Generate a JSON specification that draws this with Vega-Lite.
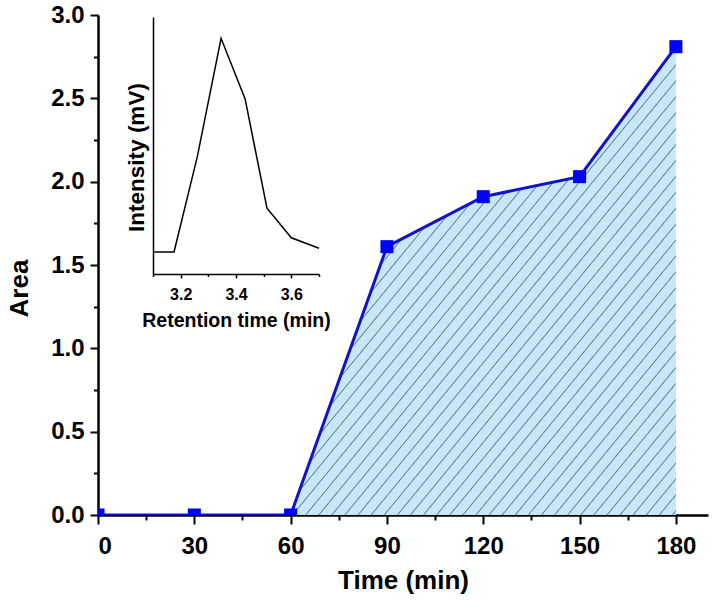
{
  "$schema": "https://vega.github.io/schema/vega-lite/v6.json",
  "width": 610,
  "height": 500,
  "autosize": {"type": "none"},
  "padding": {"left": 98, "top": 15, "right": 6, "bottom": 96},
  "background": "white",
  "config": {
    "view": {"stroke": null},
    "axis": {
      "grid": false,
      "domainColor": "black",
      "tickColor": "black",
      "labelColor": "black",
      "titleColor": "black",
      "labelFont": "Liberation Sans",
      "titleFont": "Liberation Sans",
      "labelFontWeight": "bold",
      "titleFontWeight": "bold"
    }
  },
  "datasets": {
    "main": [
      {"time": 0, "area": 0},
      {"time": 30, "area": 0},
      {"time": 60, "area": 0},
      {"time": 90, "area": 1.61},
      {"time": 120, "area": 1.91},
      {"time": 150, "area": 2.03},
      {"time": 180, "area": 2.81}
    ],
    "inset": [
      {"rt": 3.1, "intensity": 8.6},
      {"rt": 3.176, "intensity": 8.6},
      {"rt": 3.26, "intensity": 45.6},
      {"rt": 3.346, "intensity": 91.7},
      {"rt": 3.433, "intensity": 68.1},
      {"rt": 3.512, "intensity": 25.6},
      {"rt": 3.6, "intensity": 14.1},
      {"rt": 3.7, "intensity": 10.0}
    ]
  },
  "layer": [
    {
      "data": {"name": "main"},
      "encoding": {
        "x": {
          "field": "time",
          "type": "quantitative",
          "scale": {"domain": [0, 190], "nice": false},
          "axis": {
            "orient": "bottom",
            "values": [0, 15, 30, 45, 60, 75, 90, 105, 120, 135, 150, 165, 180],
            "labelExpr": "datum.value % 30 == 0 ? datum.label : ''",
            "tickSize": {"condition": {"test": "datum.value % 30 == 0", "value": 9}, "value": 5},
            "tickWidth": 2,
            "domainWidth": 2.5,
            "labelFontSize": 24,
            "labelPadding": 10,
            "labelOverlap": false,
            "title": "Time (min)",
            "titleFontSize": 26,
            "titlePadding": 9
          }
        },
        "y": {
          "field": "area",
          "type": "quantitative",
          "scale": {"domain": [0, 3], "nice": false},
          "axis": {
            "orient": "left",
            "values": [0, 0.25, 0.5, 0.75, 1, 1.25, 1.5, 1.75, 2, 2.25, 2.5, 2.75, 3],
            "format": ".1f",
            "labelExpr": "(datum.value * 4) % 2 == 0 ? datum.label : ''",
            "tickSize": {"condition": {"test": "(datum.value * 4) % 2 == 0", "value": 8}, "value": 4.5},
            "tickWidth": 2,
            "domainWidth": 2.5,
            "labelFontSize": 24,
            "labelPadding": 6,
            "labelOverlap": false,
            "title": "Area",
            "titleFontSize": 26,
            "titlePadding": 18,
            "titleY": 273
          }
        }
      },
      "layer": [
        {
          "transform": [{"filter": "datum.time >= 60"}],
          "mark": {
            "type": "area",
            "clip": true,
            "opacity": 1,
            "fill": {
              "gradient": "linear",
              "x1": 0, "y1": 0, "x2": 1, "y2": 1,
              "stops": [
                {"offset": 0, "color": "#c7e7f7"},
                {"offset": 0.008, "color": "#c7e7f7"}, {"offset": 0.0095, "color": "#4f7a96"}, {"offset": 0.011, "color": "#c7e7f7"},
                {"offset": 0.025, "color": "#c7e7f7"}, {"offset": 0.0265, "color": "#4f7a96"}, {"offset": 0.028, "color": "#c7e7f7"},
                {"offset": 0.042, "color": "#c7e7f7"}, {"offset": 0.0435, "color": "#4f7a96"}, {"offset": 0.045, "color": "#c7e7f7"},
                {"offset": 0.059, "color": "#c7e7f7"}, {"offset": 0.0605, "color": "#4f7a96"}, {"offset": 0.062, "color": "#c7e7f7"},
                {"offset": 0.076, "color": "#c7e7f7"}, {"offset": 0.0775, "color": "#4f7a96"}, {"offset": 0.079, "color": "#c7e7f7"},
                {"offset": 0.093, "color": "#c7e7f7"}, {"offset": 0.0945, "color": "#4f7a96"}, {"offset": 0.096, "color": "#c7e7f7"},
                {"offset": 0.110, "color": "#c7e7f7"}, {"offset": 0.1115, "color": "#4f7a96"}, {"offset": 0.113, "color": "#c7e7f7"},
                {"offset": 0.127, "color": "#c7e7f7"}, {"offset": 0.1285, "color": "#4f7a96"}, {"offset": 0.130, "color": "#c7e7f7"},
                {"offset": 0.144, "color": "#c7e7f7"}, {"offset": 0.1455, "color": "#4f7a96"}, {"offset": 0.147, "color": "#c7e7f7"},
                {"offset": 0.161, "color": "#c7e7f7"}, {"offset": 0.1625, "color": "#4f7a96"}, {"offset": 0.164, "color": "#c7e7f7"},
                {"offset": 0.178, "color": "#c7e7f7"}, {"offset": 0.1795, "color": "#4f7a96"}, {"offset": 0.181, "color": "#c7e7f7"},
                {"offset": 0.195, "color": "#c7e7f7"}, {"offset": 0.1965, "color": "#4f7a96"}, {"offset": 0.198, "color": "#c7e7f7"},
                {"offset": 0.212, "color": "#c7e7f7"}, {"offset": 0.2135, "color": "#4f7a96"}, {"offset": 0.215, "color": "#c7e7f7"},
                {"offset": 0.229, "color": "#c7e7f7"}, {"offset": 0.2305, "color": "#4f7a96"}, {"offset": 0.232, "color": "#c7e7f7"},
                {"offset": 0.246, "color": "#c7e7f7"}, {"offset": 0.2475, "color": "#4f7a96"}, {"offset": 0.249, "color": "#c7e7f7"},
                {"offset": 0.263, "color": "#c7e7f7"}, {"offset": 0.2645, "color": "#4f7a96"}, {"offset": 0.266, "color": "#c7e7f7"},
                {"offset": 0.280, "color": "#c7e7f7"}, {"offset": 0.2815, "color": "#4f7a96"}, {"offset": 0.283, "color": "#c7e7f7"},
                {"offset": 0.297, "color": "#c7e7f7"}, {"offset": 0.2985, "color": "#4f7a96"}, {"offset": 0.300, "color": "#c7e7f7"},
                {"offset": 0.314, "color": "#c7e7f7"}, {"offset": 0.3155, "color": "#4f7a96"}, {"offset": 0.317, "color": "#c7e7f7"},
                {"offset": 0.331, "color": "#c7e7f7"}, {"offset": 0.3325, "color": "#4f7a96"}, {"offset": 0.334, "color": "#c7e7f7"},
                {"offset": 0.348, "color": "#c7e7f7"}, {"offset": 0.3495, "color": "#4f7a96"}, {"offset": 0.351, "color": "#c7e7f7"},
                {"offset": 0.365, "color": "#c7e7f7"}, {"offset": 0.3665, "color": "#4f7a96"}, {"offset": 0.368, "color": "#c7e7f7"},
                {"offset": 0.382, "color": "#c7e7f7"}, {"offset": 0.3835, "color": "#4f7a96"}, {"offset": 0.385, "color": "#c7e7f7"},
                {"offset": 0.399, "color": "#c7e7f7"}, {"offset": 0.4005, "color": "#4f7a96"}, {"offset": 0.402, "color": "#c7e7f7"},
                {"offset": 0.416, "color": "#c7e7f7"}, {"offset": 0.4175, "color": "#4f7a96"}, {"offset": 0.419, "color": "#c7e7f7"},
                {"offset": 0.433, "color": "#c7e7f7"}, {"offset": 0.4345, "color": "#4f7a96"}, {"offset": 0.436, "color": "#c7e7f7"},
                {"offset": 0.450, "color": "#c7e7f7"}, {"offset": 0.4515, "color": "#4f7a96"}, {"offset": 0.453, "color": "#c7e7f7"},
                {"offset": 0.467, "color": "#c7e7f7"}, {"offset": 0.4685, "color": "#4f7a96"}, {"offset": 0.470, "color": "#c7e7f7"},
                {"offset": 0.484, "color": "#c7e7f7"}, {"offset": 0.4855, "color": "#4f7a96"}, {"offset": 0.487, "color": "#c7e7f7"},
                {"offset": 0.501, "color": "#c7e7f7"}, {"offset": 0.5025, "color": "#4f7a96"}, {"offset": 0.504, "color": "#c7e7f7"},
                {"offset": 0.518, "color": "#c7e7f7"}, {"offset": 0.5195, "color": "#4f7a96"}, {"offset": 0.521, "color": "#c7e7f7"},
                {"offset": 0.535, "color": "#c7e7f7"}, {"offset": 0.5365, "color": "#4f7a96"}, {"offset": 0.538, "color": "#c7e7f7"},
                {"offset": 0.552, "color": "#c7e7f7"}, {"offset": 0.5535, "color": "#4f7a96"}, {"offset": 0.555, "color": "#c7e7f7"},
                {"offset": 0.569, "color": "#c7e7f7"}, {"offset": 0.5705, "color": "#4f7a96"}, {"offset": 0.572, "color": "#c7e7f7"},
                {"offset": 0.586, "color": "#c7e7f7"}, {"offset": 0.5875, "color": "#4f7a96"}, {"offset": 0.589, "color": "#c7e7f7"},
                {"offset": 0.603, "color": "#c7e7f7"}, {"offset": 0.6045, "color": "#4f7a96"}, {"offset": 0.606, "color": "#c7e7f7"},
                {"offset": 0.620, "color": "#c7e7f7"}, {"offset": 0.6215, "color": "#4f7a96"}, {"offset": 0.623, "color": "#c7e7f7"},
                {"offset": 0.637, "color": "#c7e7f7"}, {"offset": 0.6385, "color": "#4f7a96"}, {"offset": 0.640, "color": "#c7e7f7"},
                {"offset": 0.654, "color": "#c7e7f7"}, {"offset": 0.6555, "color": "#4f7a96"}, {"offset": 0.657, "color": "#c7e7f7"},
                {"offset": 0.671, "color": "#c7e7f7"}, {"offset": 0.6725, "color": "#4f7a96"}, {"offset": 0.674, "color": "#c7e7f7"},
                {"offset": 0.688, "color": "#c7e7f7"}, {"offset": 0.6895, "color": "#4f7a96"}, {"offset": 0.691, "color": "#c7e7f7"},
                {"offset": 0.705, "color": "#c7e7f7"}, {"offset": 0.7065, "color": "#4f7a96"}, {"offset": 0.708, "color": "#c7e7f7"},
                {"offset": 0.722, "color": "#c7e7f7"}, {"offset": 0.7235, "color": "#4f7a96"}, {"offset": 0.725, "color": "#c7e7f7"},
                {"offset": 0.739, "color": "#c7e7f7"}, {"offset": 0.7405, "color": "#4f7a96"}, {"offset": 0.742, "color": "#c7e7f7"},
                {"offset": 0.756, "color": "#c7e7f7"}, {"offset": 0.7575, "color": "#4f7a96"}, {"offset": 0.759, "color": "#c7e7f7"},
                {"offset": 0.773, "color": "#c7e7f7"}, {"offset": 0.7745, "color": "#4f7a96"}, {"offset": 0.776, "color": "#c7e7f7"},
                {"offset": 0.790, "color": "#c7e7f7"}, {"offset": 0.7915, "color": "#4f7a96"}, {"offset": 0.793, "color": "#c7e7f7"},
                {"offset": 0.807, "color": "#c7e7f7"}, {"offset": 0.8085, "color": "#4f7a96"}, {"offset": 0.810, "color": "#c7e7f7"},
                {"offset": 0.824, "color": "#c7e7f7"}, {"offset": 0.8255, "color": "#4f7a96"}, {"offset": 0.827, "color": "#c7e7f7"},
                {"offset": 0.841, "color": "#c7e7f7"}, {"offset": 0.8425, "color": "#4f7a96"}, {"offset": 0.844, "color": "#c7e7f7"},
                {"offset": 0.858, "color": "#c7e7f7"}, {"offset": 0.8595, "color": "#4f7a96"}, {"offset": 0.861, "color": "#c7e7f7"},
                {"offset": 0.875, "color": "#c7e7f7"}, {"offset": 0.8765, "color": "#4f7a96"}, {"offset": 0.878, "color": "#c7e7f7"},
                {"offset": 0.892, "color": "#c7e7f7"}, {"offset": 0.8935, "color": "#4f7a96"}, {"offset": 0.895, "color": "#c7e7f7"},
                {"offset": 0.909, "color": "#c7e7f7"}, {"offset": 0.9105, "color": "#4f7a96"}, {"offset": 0.912, "color": "#c7e7f7"},
                {"offset": 0.926, "color": "#c7e7f7"}, {"offset": 0.9275, "color": "#4f7a96"}, {"offset": 0.929, "color": "#c7e7f7"},
                {"offset": 0.943, "color": "#c7e7f7"}, {"offset": 0.9445, "color": "#4f7a96"}, {"offset": 0.946, "color": "#c7e7f7"},
                {"offset": 0.960, "color": "#c7e7f7"}, {"offset": 0.9615, "color": "#4f7a96"}, {"offset": 0.963, "color": "#c7e7f7"},
                {"offset": 0.977, "color": "#c7e7f7"}, {"offset": 0.9785, "color": "#4f7a96"}, {"offset": 0.980, "color": "#c7e7f7"},
                {"offset": 0.994, "color": "#c7e7f7"}, {"offset": 0.9955, "color": "#4f7a96"}, {"offset": 0.997, "color": "#c7e7f7"},
                {"offset": 1, "color": "#c7e7f7"}
              ]
            }
          }
        },
        {
          "mark": {"type": "line", "color": "#1212c8", "strokeWidth": 3, "clip": true}
        },
        {
          "mark": {"type": "point", "shape": "square", "filled": true, "size": 170, "color": "#0000ff", "opacity": 1, "clip": true}
        }
      ]
    },
    {
      "data": {"name": "inset"},
      "mark": {"type": "line", "color": "black", "strokeWidth": 1.5, "clip": true},
      "encoding": {
        "x": {
          "field": "rt",
          "type": "quantitative",
          "scale": {"domain": [3.1, 3.7], "range": [55, 221], "nice": false, "zero": false},
          "axis": {
            "orient": "bottom",
            "offset": -241,
            "values": [3.1, 3.2, 3.3, 3.4, 3.5, 3.6, 3.7],
            "format": ".1f",
            "labelExpr": "round(datum.value * 10) % 2 == 0 ? datum.label : ''",
            "tickSize": {"condition": {"test": "round(datum.value * 10) % 2 == 0", "value": 4}, "value": 2.5},
            "tickWidth": 1.5,
            "domainWidth": 1.5,
            "labelFontSize": 16,
            "labelPadding": 8,
            "labelOverlap": false,
            "title": "Retention time (min)",
            "titleFontSize": 19.5,
            "titlePadding": 9
          }
        },
        "y": {
          "field": "intensity",
          "type": "quantitative",
          "scale": {"domain": [0, 100], "range": [259, 2], "nice": false},
          "axis": {
            "orient": "left",
            "offset": -55,
            "ticks": false,
            "labels": false,
            "domainWidth": 1.5,
            "title": "Intensity (mV)",
            "titleFontSize": 22.5,
            "titlePadding": 5,
            "titleY": 142
          }
        }
      }
    }
  ],
  "resolve": {
    "scale": {"x": "independent", "y": "independent"},
    "axis": {"x": "independent", "y": "independent"}
  }
}
